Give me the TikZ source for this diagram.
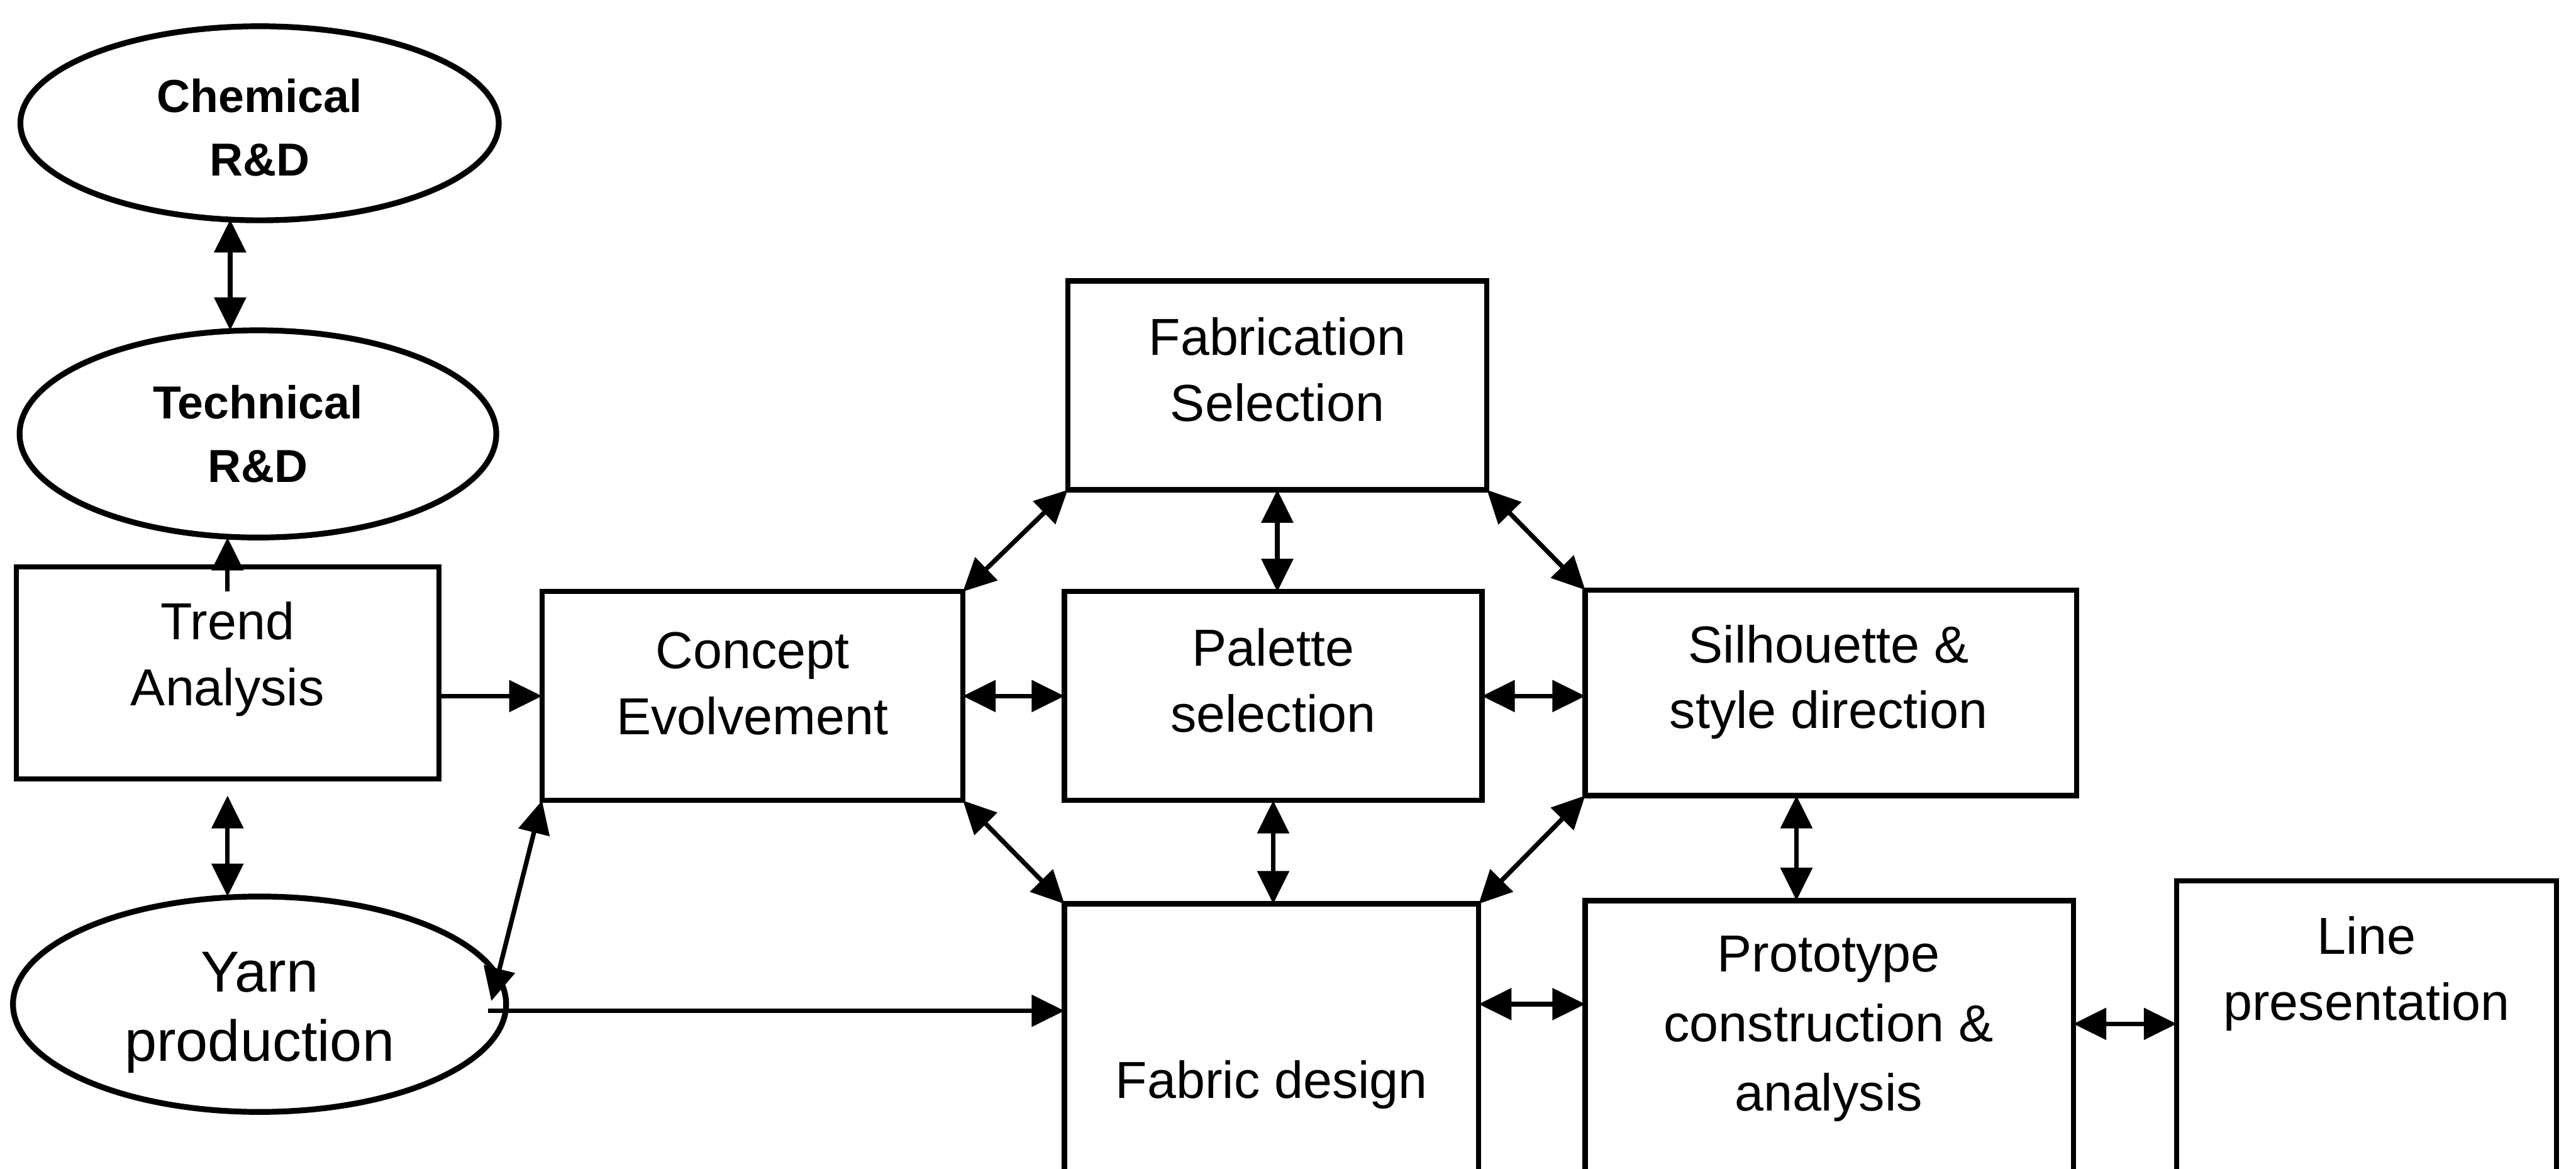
\documentclass[tikz,border=0pt]{standalone}
\usepackage{fontspec}
\setmainfont{Liberation Sans}
\usetikzlibrary{shapes.geometric,arrows.meta,calc}

\begin{document}
\begin{tikzpicture}[x=0.01cm,y=-0.01cm,
  box/.style={draw, line width=0.9pt, rectangle, inner sep=0pt, outer sep=0pt},
  oval/.style={draw, line width=1pt, ellipse, inner sep=0pt, outer sep=0pt},
  txt/.style={align=center, font=\fontsize{9}{11.4}\selectfont, inner sep=0pt},
  btxt/.style={align=center, font=\bfseries\fontsize{8}{11}\selectfont, inner sep=0pt},
  link/.style={line width=0.8pt, -{Triangle[length=0.2cm,width=0.19cm]}},
  dlink/.style={line width=0.8pt, {Triangle[length=0.2cm,width=0.19cm]}-{Triangle[length=0.2cm,width=0.19cm]}},
]
\clip (0,0) rectangle (1568,711);
\fill[white] (0,0) rectangle (1568,711);

% research ellipses
\node[oval, minimum width=2.91cm, minimum height=1.18cm] (chem) at (158,75) {};
\node[oval, minimum width=2.90cm, minimum height=1.26cm] (tech) at (157,264) {};
\node[oval, minimum width=3.00cm, minimum height=1.31cm] (yarn) at (158,611) {};
\node[btxt] (chemT) at (158,77.5) {Chemical\\R\&D};
\node[btxt] (techT) at (157,264) {Technical\\R\&D};
\node[txt, font=\fontsize{10}{12}\selectfont] (yarnT) at (158,616) {Yarn\\production};

% process boxes
\node[box, minimum width=2.57cm, minimum height=1.29cm] (trend) at (138.5,409.5) {};
\node[box, minimum width=2.56cm, minimum height=1.27cm] (concept) at (458,423.5) {};
\node[box, minimum width=2.55cm, minimum height=1.27cm] (fab) at (777.5,234.5) {};
\node[box, minimum width=2.54cm, minimum height=1.27cm] (pal) at (775,423.5) {};
\node[box, minimum width=2.99cm, minimum height=1.25cm] (sil) at (1114.5,421.5) {};
\node[box, minimum width=2.52cm, minimum height=2.20cm] (fd) at (774,660) {};
\node[box, minimum width=2.97cm, minimum height=2.12cm] (proto) at (1113.5,654) {};
\node[box, minimum width=2.31cm, minimum height=2.24cm] (line) at (1440.5,648) {};

\node[txt] (trendT) at (138.5,401) {Trend\\Analysis};
\node[txt] (conceptT) at (458,416) {Concept\\Evolvement};
\node[txt] (fabT) at (777.5,225) {Fabrication\\Selection};
\node[txt] (palT) at (775,414) {Palette\\selection};
\node[txt] (silT) at (1113,415) {Silhouette \&\\style direction};
\node[txt] (fdT) at (774,660) {Fabric design};
\node[txt, font=\fontsize{9}{12}\selectfont] (protoT) at (1113,626) {Prototype\\construction \&\\analysis};
\node[txt] (lineT) at (1440.5,592.5) {Line\\presentation};

% connector end points on the yarn ellipse
\coordinate (yj) at ($(yarn.east)+(-11,4)$);
\coordinate (yd) at ($(yarn.east)+(-9,-2)$);

% connectors
\draw[dlink] (chem.253) -- (chem.253 |- tech.north);
\draw[link] ($(trend.north)+(0,15)$) -- (trend.north |- tech.south);
\draw[dlink] ($(trend.south)+(0,10)$) -- (trend.south |- yarn.north);
\draw[link] (concept.west -| trend.east) -- (concept.west);
\draw[dlink] (yd) -- (concept.south west);
\draw[link] (yj) -- (yj -| fd.west);

\draw[dlink] (concept.east) -- (pal.west);
\draw[dlink] (pal.east) -- (pal.east -| sil.west);
\draw[dlink] (fab.south) -- (fab.south |- pal.north);
\draw[dlink] (pal.south) -- (pal.south |- fd.north);
\draw[dlink] (fab.south west) -- (concept.north east);
\draw[dlink] (fab.south east) -- (sil.north west);
\draw[dlink] (concept.south east) -- (fd.north west);
\draw[dlink] (sil.south west) -- (fd.north east);

\coordinate (sp) at ($(sil.south)+(-21,0)$);
\draw[dlink] (sp) -- (sp |- proto.north);
\coordinate (fp) at ($(fd.north east)+(0,61)$);
\draw[dlink] (fp) -- (fp -| proto.west);
\coordinate (pl) at ($(proto.north east)+(0,75)$);
\draw[dlink] (pl) -- (pl -| line.west);
\end{tikzpicture}
\end{document}
